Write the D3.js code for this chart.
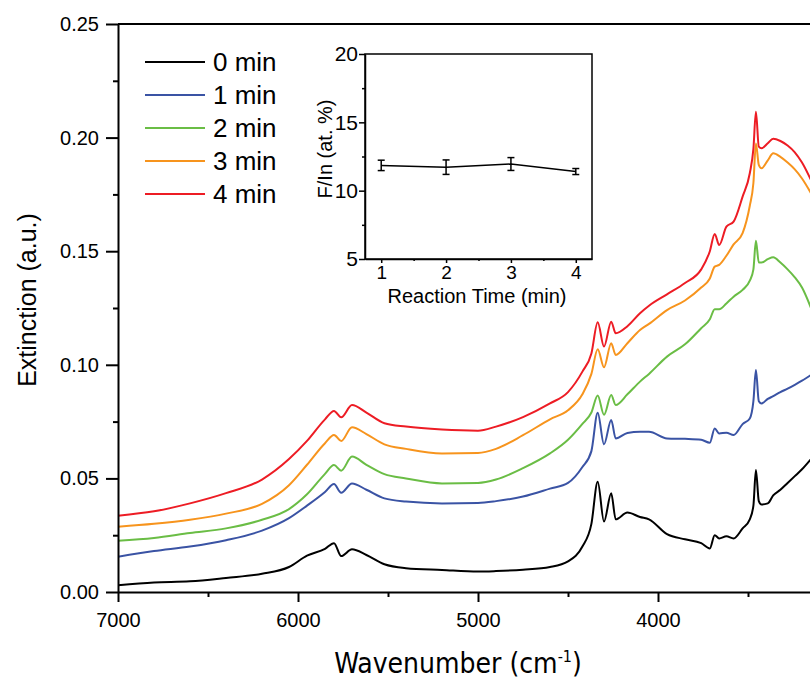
<!DOCTYPE html>
<html>
<head>
<meta charset="utf-8">
<script src="https://cdn.jsdelivr.net/npm/d3@7"></script>
<style>
  body { margin: 0; background: #fff; }
  svg { display: block; }
</style>
</head>
<body>
<svg id="chart" width="810" height="679"></svg>
<script>
// spectra (extinction vs wavenumber)
var wavenumbers = [7000, 6800, 6600, 6400, 6200, 6050, 5950, 5850, 5800, 5760, 5700, 5620, 5520, 5400, 5200, 5000, 4900, 4750, 4600, 4500,
  4420, 4370, 4335, 4300, 4260, 4235, 4170, 4100, 4050, 3950, 3850, 3760, 3712, 3685, 3660, 3620, 3580, 3530, 3490, 3470,
  3456, 3440, 3425, 3390, 3360, 3320, 3280, 3240, 3200, 3150];

var ext0min = [0.0030, 0.0042, 0.0047, 0.0062, 0.0080, 0.0110, 0.0160, 0.0190, 0.0215, 0.0158, 0.0188, 0.0163, 0.0122, 0.0105, 0.0097, 0.0090, 0.0092, 0.0098, 0.0110, 0.0135,
  0.0200, 0.0300, 0.0485, 0.0310, 0.0435, 0.0320, 0.0350, 0.0330, 0.0320, 0.0255, 0.0232, 0.0215, 0.0192, 0.0250, 0.0236, 0.0245, 0.0236, 0.0280, 0.0320, 0.0380,
  0.0537, 0.0400, 0.0385, 0.0390, 0.0425, 0.0450, 0.0480, 0.0510, 0.0540, 0.0585];

var ext1min = [0.0155, 0.0180, 0.0200, 0.0228, 0.0270, 0.0325, 0.0380, 0.0440, 0.0475, 0.0437, 0.0478, 0.0450, 0.0412, 0.0398, 0.0390, 0.0392, 0.0400, 0.0420, 0.0455, 0.0480,
  0.0550, 0.0620, 0.0789, 0.0650, 0.0757, 0.0676, 0.0700, 0.0705, 0.0705, 0.0676, 0.0674, 0.0670, 0.0657, 0.0720, 0.0698, 0.0701, 0.0691, 0.0739, 0.0764, 0.0840,
  0.0977, 0.0840, 0.0830, 0.0850, 0.0862, 0.0880, 0.0895, 0.0912, 0.0930, 0.0955];

var ext2min = [0.0226, 0.0238, 0.0260, 0.0280, 0.0318, 0.0365, 0.0430, 0.0520, 0.0559, 0.0534, 0.0596, 0.0560, 0.0519, 0.0500, 0.0478, 0.0480, 0.0495, 0.0545, 0.0610, 0.0670,
  0.0740, 0.0790, 0.0865, 0.0780, 0.0867, 0.0823, 0.0870, 0.0926, 0.0960, 0.1036, 0.1090, 0.1161, 0.1200, 0.1245, 0.1245, 0.1270, 0.1300, 0.1330, 0.1370, 0.1420,
  0.1546, 0.1450, 0.1450, 0.1465, 0.1473, 0.1450, 0.1420, 0.1385, 0.1340, 0.1250];

var ext3min = [0.0287, 0.0300, 0.0318, 0.0345, 0.0388, 0.0470, 0.0560, 0.0655, 0.0691, 0.0665, 0.0725, 0.0695, 0.0650, 0.0630, 0.0610, 0.0612, 0.0630, 0.0690, 0.0760, 0.0800,
  0.0870, 0.0960, 0.1068, 0.0989, 0.1095, 0.1043, 0.1095, 0.1153, 0.1180, 0.1241, 0.1283, 0.1340, 0.1380, 0.1432, 0.1440, 0.1480, 0.1530, 0.1580, 0.1700, 0.1800,
  0.1974, 0.1880, 0.1865, 0.1900, 0.1931, 0.1915, 0.1890, 0.1860, 0.1820, 0.1755];

var ext4min = [0.0336, 0.0355, 0.0390, 0.0435, 0.0495, 0.0585, 0.0665, 0.0760, 0.0797, 0.0769, 0.0823, 0.0790, 0.0743, 0.0728, 0.0715, 0.0710, 0.0728, 0.0770, 0.0830, 0.0880,
  0.0970, 0.1050, 0.1187, 0.1080, 0.1190, 0.1139, 0.1170, 0.1227, 0.1260, 0.1310, 0.1360, 0.1420, 0.1500, 0.1576, 0.1527, 0.1608, 0.1630, 0.1740, 0.1843, 0.1950,
  0.2114, 0.1960, 0.1953, 0.1975, 0.1995, 0.1985, 0.1965, 0.1935, 0.1890, 0.1813];

var seriesNames = ["0 min", "1 min", "2 min", "3 min", "4 min"];
var seriesColors = ["#000000", "#3a53a4", "#6abd45", "#f7941d", "#ed1c24"];
var seriesValues = [ext0min, ext1min, ext2min, ext3min, ext4min];

var xTickValues = [7000, 6000, 5000, 4000];
var yTickValues = [0, 0.05, 0.10, 0.15, 0.20, 0.25];

// inset: F/In ratio vs reaction time
var insetTimes = [1, 2, 3, 4];
var insetRatio = [11.85, 11.72, 11.95, 11.40];
var insetError = [0.38, 0.53, 0.47, 0.22];
var insetYTicks = [5, 10, 15, 20];

var svg = d3.select("#chart");
var font = "'Liberation Sans', Arial, sans-serif";
var narrow = "'Liberation Sans Narrow', 'DejaVu Sans Condensed', sans-serif";

// main scales
var x = d3.scaleLinear().domain([7000, 3000]).range([118, 838]);
var y = d3.scaleLinear().domain([0, 0.25]).range([592, 24]);

svg.append("clipPath").attr("id", "plotclip")
  .append("rect").attr("x", 118).attr("y", 0).attr("width", 692).attr("height", 600);

// curves
var line = d3.line()
  .curve(d3.curveMonotoneX)
  .x(function (d) { return x(d[0]); })
  .y(function (d) { return y(d[1]); });

var curves = svg.append("g").attr("clip-path", "url(#plotclip)");
seriesValues.forEach(function (vals, i) {
  curves.append("path")
    .datum(wavenumbers.map(function (w, j) { return [w, vals[j]]; }))
    .attr("d", line)
    .attr("fill", "none")
    .attr("stroke", seriesColors[i])
    .attr("stroke-width", 2)
    .attr("stroke-linejoin", "round");
});

// frame top line
svg.append("line")
  .attr("x1", 118).attr("x2", 838).attr("y1", y(0.25)).attr("y2", y(0.25))
  .attr("stroke", "#000").attr("stroke-width", 2);

// x axis
var xAxis = svg.append("g").attr("transform", "translate(0,592)")
  .call(d3.axisBottom(x).tickValues(xTickValues).tickSize(10).tickSizeOuter(0).tickPadding(11).tickFormat(d3.format("d")));
svg.append("g").attr("transform", "translate(0,592)")
  .call(d3.axisBottom(x).tickValues([6500, 5500, 4500, 3500]).tickSize(5).tickSizeOuter(0).tickFormat(""))
  .select(".domain").remove();
xAxis.selectAll("text").attr("font-family", font).attr("font-size", 20).attr("fill", "#000");

// y axis
var yAxis = svg.append("g").attr("transform", "translate(118,0)")
  .call(d3.axisLeft(y).tickValues(yTickValues).tickSize(12).tickSizeOuter(0).tickPadding(7).tickFormat(d3.format(".2f")));
svg.append("g").attr("transform", "translate(118,0)")
  .call(d3.axisLeft(y).tickValues([0.025, 0.075, 0.125, 0.175, 0.225]).tickSize(5).tickSizeOuter(0).tickFormat(""))
  .select(".domain").remove();
yAxis.selectAll("text").attr("font-family", font).attr("font-size", 20).attr("fill", "#000");

svg.selectAll(".domain, .tick line").attr("stroke", "#000").attr("stroke-width", 2);

// axis titles
var xTitle = svg.append("text")
  .attr("x", 458).attr("y", 673)
  .attr("text-anchor", "middle")
  .attr("font-family", narrow).attr("font-size", 28);
xTitle.append("tspan").text("Wavenumber (cm");
xTitle.append("tspan").attr("font-size", 16).attr("dy", -11).text("-1");
xTitle.append("tspan").attr("dy", 11).text(")");

svg.append("text")
  .attr("transform", "translate(36,300) rotate(-90)")
  .attr("text-anchor", "middle")
  .attr("font-family", font).attr("font-size", 25)
  .text("Extinction (a.u.)");

// legend
var legend = svg.append("g");
seriesNames.forEach(function (name, i) {
  var ly = 62 + i * 33;
  legend.append("line")
    .attr("x1", 145).attr("x2", 205).attr("y1", ly).attr("y2", ly)
    .attr("stroke", seriesColors[i]).attr("stroke-width", 2);
  legend.append("text")
    .attr("x", 213).attr("y", ly + 9)
    .attr("font-family", font).attr("font-size", 26)
    .text(name);
});

// inset
var ix = d3.scaleLinear().domain([0.75, 4.25]).range([365, 592]);
var iy = d3.scaleLinear().domain([5, 20]).range([259, 54]);
var inset = svg.append("g");

inset.append("rect")
  .attr("x", 365).attr("y", 54).attr("width", 227).attr("height", 205)
  .attr("fill", "#fff").attr("stroke", "#000").attr("stroke-width", 1.5);

var ixAxis = inset.append("g").attr("transform", "translate(0,259)")
  .call(d3.axisBottom(ix).tickValues(insetTimes).tickSize(4).tickSizeOuter(0).tickPadding(3).tickFormat(d3.format("d")));
inset.append("g").attr("transform", "translate(0,259)")
  .call(d3.axisBottom(ix).tickValues([1.5, 2.5, 3.5]).tickSize(2).tickSizeOuter(0).tickFormat(""))
  .select(".domain").remove();
var iyAxis = inset.append("g").attr("transform", "translate(365,0)")
  .call(d3.axisLeft(iy).tickValues(insetYTicks).tickSize(6).tickSizeOuter(0).tickPadding(1).tickFormat(d3.format("d")));
inset.append("g").attr("transform", "translate(365,0)")
  .call(d3.axisLeft(iy).tickValues([7.5, 12.5, 17.5]).tickSize(3).tickSizeOuter(0).tickFormat(""))
  .select(".domain").remove();
inset.selectAll(".domain, .tick line").attr("stroke", "#000").attr("stroke-width", 1.5);
iyAxis.selectAll("text").attr("font-family", font).attr("font-size", 21).attr("fill", "#000");
ixAxis.selectAll("text").attr("font-family", font).attr("font-size", 19).attr("fill", "#000");

inset.append("text")
  .attr("x", 477).attr("y", 303)
  .attr("text-anchor", "middle")
  .attr("font-family", font).attr("font-size", 20)
  .text("Reaction Time (min)");
inset.append("text")
  .attr("transform", "translate(332,149) rotate(-90)")
  .attr("text-anchor", "middle")
  .attr("font-family", font).attr("font-size", 20)
  .text("F/In (at. %)");

var pts = insetTimes.map(function (t, i) { return { t: t, v: insetRatio[i], e: insetError[i] }; });
inset.append("path")
  .datum(pts)
  .attr("d", d3.line().x(function (d) { return ix(d.t); }).y(function (d) { return iy(d.v); }))
  .attr("fill", "none").attr("stroke", "#000").attr("stroke-width", 1.5);

var bars = inset.selectAll(".err").data(pts).enter().append("g").attr("class", "err");
bars.append("line")
  .attr("x1", function (d) { return ix(d.t); }).attr("x2", function (d) { return ix(d.t); })
  .attr("y1", function (d) { return iy(d.v + d.e); }).attr("y2", function (d) { return iy(d.v - d.e); })
  .attr("stroke", "#000").attr("stroke-width", 1.5);
[1, -1].forEach(function (s) {
  bars.append("line")
    .attr("x1", function (d) { return ix(d.t) - 3.5; }).attr("x2", function (d) { return ix(d.t) + 3.5; })
    .attr("y1", function (d) { return iy(d.v + s * d.e); }).attr("y2", function (d) { return iy(d.v + s * d.e); })
    .attr("stroke", "#000").attr("stroke-width", 1.5);
});
</script>
</body>
</html>
